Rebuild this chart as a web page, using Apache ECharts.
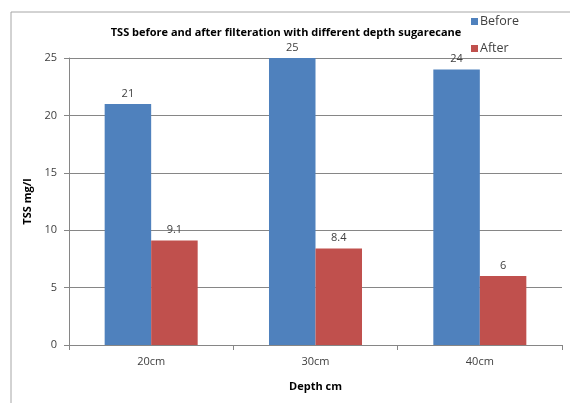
<!DOCTYPE html>
<html><head><meta charset="utf-8">
<script src="https://cdn.jsdelivr.net/npm/echarts@6/dist/echarts.min.js"></script>
<style>html,body{margin:0;padding:0;background:#fff}#c{width:570px;height:403px}</style>
</head><body><div id="c"></div>
<script>
const categories = ['20cm', '30cm', '40cm'];
const beforeValues = [21, 25, 24];
const afterValues = [9.1, 8.4, 6];
const yTicks = [0, 5, 10, 15, 20, 25];
const titleText = 'TSS before and after filteration with different depth sugarecane';

const FONT = 'Open Sans';
const chart = echarts.init(document.getElementById('c'), null, {renderer: 'canvas'});
chart.setOption({
  animation: false,
  textStyle: {fontFamily: FONT},
  title: {
    text: titleText, left: 281, top: 22, textAlign: 'center',
    textStyle: {fontSize: 11, fontWeight: 'bold', color: '#000', fontFamily: FONT}
  },
  legend: {
    orient: 'vertical', left: 466, top: 10, itemWidth: 7, itemHeight: 7, itemGap: 14,
    icon: 'rect',
    textStyle: {fontSize: 12.5, color: '#404040', fontFamily: FONT, padding: [0, 0, 0, -3]},
    data: ['Before', 'After']
  },
  graphic: [{
    type: 'rect', shape: {x: 11, y: 12, width: 570, height: 420},
    style: {fill: 'none', stroke: '#a6a6a6', lineWidth: 1}, silent: true, z: -10
  }],
  grid: {left: 69, right: 8, top: 58, bottom: 58, containLabel: false},
  xAxis: {
    type: 'category', data: categories,
    name: 'Depth cm', nameLocation: 'middle', nameGap: 36,
    nameTextStyle: {fontSize: 11, fontWeight: 'bold', color: '#000', fontFamily: FONT},
    axisLine: {lineStyle: {color: '#868686'}},
    axisTick: {show: true, length: 5, lineStyle: {color: '#868686'}},
    axisLabel: {fontSize: 11, color: '#404040', margin: 11, fontFamily: FONT}
  },
  yAxis: {
    type: 'value', min: yTicks[0], max: yTicks[yTicks.length - 1], interval: 5,
    name: 'TSS mg/l', nameLocation: 'middle', nameGap: 33, nameRotate: 90,
    nameTextStyle: {fontSize: 11, fontWeight: 'bold', color: '#000', fontFamily: FONT},
    axisLine: {show: true, lineStyle: {color: '#868686'}},
    axisTick: {show: true, length: 5, lineStyle: {color: '#868686'}},
    splitLine: {lineStyle: {color: '#868686'}},
    axisLabel: {fontSize: 11, color: '#404040', margin: 12, fontFamily: FONT}
  },
  series: [
    {name: 'Before', type: 'bar', data: beforeValues, barWidth: '28.3%', barGap: '0%',
     itemStyle: {color: '#4F81BD'},
     label: {show: true, position: 'top', distance: 5, fontSize: 11, color: '#404040', fontFamily: FONT}},
    {name: 'After', type: 'bar', data: afterValues, barWidth: '28.3%', barGap: '0%',
     itemStyle: {color: '#C0504D'},
     label: {show: true, position: 'top', distance: 5, fontSize: 11, color: '#404040', fontFamily: FONT}}
  ]
});
</script></body></html>
